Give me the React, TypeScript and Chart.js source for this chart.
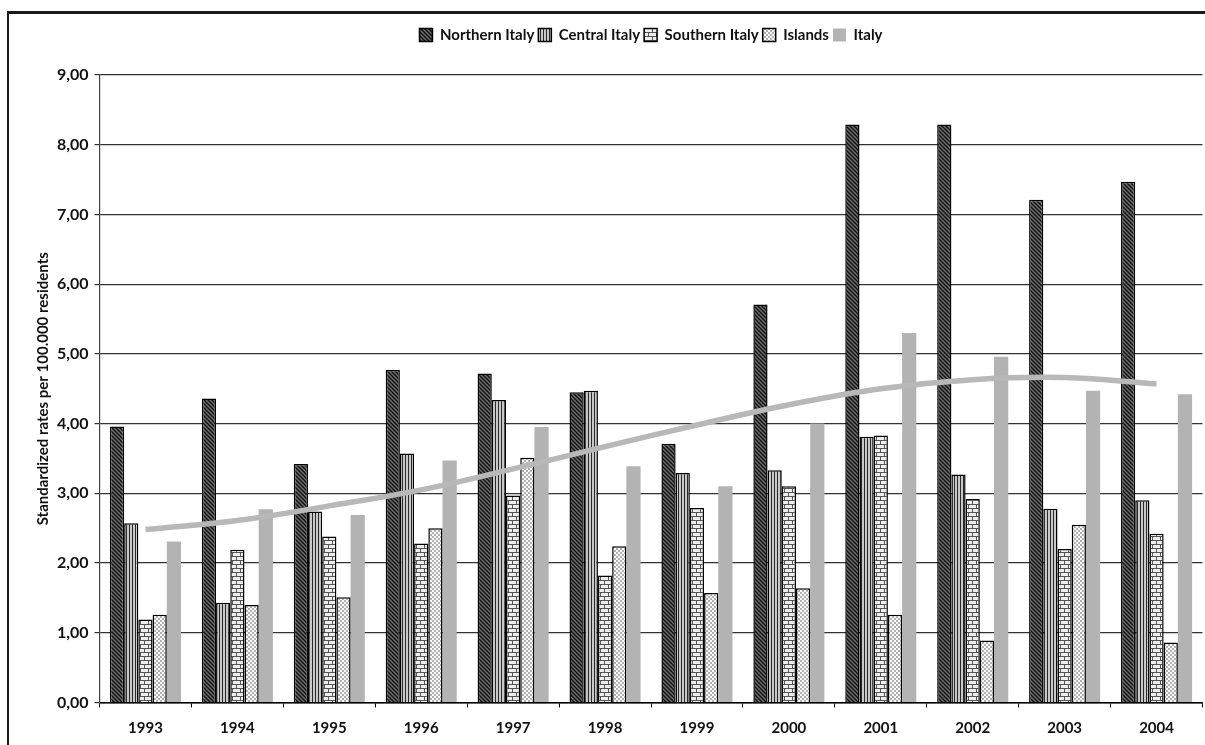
import { useEffect, useRef } from 'react';
import { Chart, registerables } from 'chart.js';

Chart.register(...registerables);

const years = ['1993', '1994', '1995', '1996', '1997', '1998', '1999', '2000', '2001', '2002', '2003', '2004'];
const northernItaly = [3.96, 4.36, 3.42, 4.77, 4.72, 4.45, 3.71, 5.71, 8.29, 8.29, 7.21, 7.47];
const centralItaly = [2.57, 1.43, 2.74, 3.57, 4.34, 4.47, 3.29, 3.33, 3.81, 3.27, 2.78, 2.9];
const southernItaly = [1.19, 2.19, 2.38, 2.28, 2.97, 1.82, 2.79, 3.1, 3.83, 2.92, 2.2, 2.42];
const islands = [1.26, 1.4, 1.51, 2.5, 3.51, 2.24, 1.57, 1.64, 1.26, 0.89, 2.55, 0.86];
const italy = [2.31, 2.77, 2.69, 3.47, 3.95, 3.39, 3.1, 4.0, 5.3, 4.96, 4.47, 4.42];
const italyTrend = [2.48, 2.61, 2.82, 3.05, 3.35, 3.67, 3.98, 4.27, 4.5, 4.63, 4.66, 4.57];
const seriesNames = ['Northern Italy', 'Central Italy', 'Southern Italy', 'Islands', 'Italy'];
const yAxisTitle = 'Standardized rates per 100.000 residents';

const FONT = 'Lato, "Liberation Sans", sans-serif';

function makePattern(w: number, h: number, draw: (c: CanvasRenderingContext2D) => void): CanvasPattern {
  const cv = document.createElement('canvas');
  cv.width = w;
  cv.height = h;
  const c = cv.getContext('2d')!;
  draw(c);
  return c.createPattern(cv, 'repeat')!;
}

export default function App() {
  const ref = useRef<HTMLCanvasElement>(null);

  useEffect(() => {
    const canvas = ref.current!;
    const ctx = canvas.getContext('2d')!;

    const diag = makePattern(4, 4, (c) => {
      c.fillStyle = '#6e6e6e';
      c.fillRect(0, 0, 4, 4);
      c.strokeStyle = '#111';
      c.lineWidth = 1.4;
      c.beginPath();
      c.moveTo(-1, -1); c.lineTo(5, 5);
      c.moveTo(-1, 3); c.lineTo(1, 5);
      c.moveTo(3, -1); c.lineTo(5, 1);
      c.stroke();
    });
    const vert = makePattern(3, 2, (c) => {
      c.fillStyle = '#c8c8c8';
      c.fillRect(0, 0, 3, 2);
      c.fillStyle = '#2a2a2a';
      c.fillRect(0, 0, 1, 2);
    });
    const brick = makePattern(8, 8, (c) => {
      c.fillStyle = '#eeeeee';
      c.fillRect(0, 0, 8, 8);
      c.fillStyle = '#555';
      c.fillRect(0, 0, 8, 1);
      c.fillRect(0, 4, 8, 1);
      c.fillRect(0, 0, 1, 4);
      c.fillRect(4, 4, 1, 4);
    });
    const check = makePattern(4, 4, (c) => {
      c.fillStyle = '#fafafa';
      c.fillRect(0, 0, 4, 4);
      c.fillStyle = '#b0b0b0';
      c.fillRect(0, 0, 2, 2);
      c.fillRect(2, 2, 2, 2);
    });

    const legendSpacer = {
      id: 'legendSpacer',
      beforeInit(chart: any) {
        const lg = chart.legend;
        if (!lg) return;
        const orig = lg.fit;
        lg.fit = function () {
          orig.call(this);
          this.height += 22.5;
        };
      },
    };

    const barCommon = { borderColor: '#000', borderWidth: 1.5, categoryPercentage: 0.773, barPercentage: 1.0 };

    const chart = new Chart(ctx, {
      type: 'bar',
      data: {
        labels: years,
        datasets: [
          { label: seriesNames[0], data: northernItaly, backgroundColor: diag, ...barCommon },
          { label: seriesNames[1], data: centralItaly, backgroundColor: vert, ...barCommon },
          { label: seriesNames[2], data: southernItaly, backgroundColor: brick, ...barCommon },
          { label: seriesNames[3], data: islands, backgroundColor: check, ...barCommon },
          { label: seriesNames[4], data: italy, backgroundColor: '#b3b3b3', borderWidth: 0, categoryPercentage: 0.773, barPercentage: 1.0 },
          {
            type: 'line',
            label: 'Trend',
            data: italyTrend,
            borderColor: '#b8b8b8',
            borderWidth: 5.5,
            pointRadius: 0,
            tension: 0.4,
            fill: false,
            order: -1,
          } as any,
        ],
      },
      options: {
        animation: false,
        responsive: false,
        maintainAspectRatio: false,
        layout: { padding: { top: 23.5, right: 2.5, left: 0, bottom: 0 } },
        plugins: {
          legend: {
            display: true,
            position: 'top',
            fullSize: false,
            labels: {
              boxWidth: 13,
              boxHeight: 13,
              padding: 4,
              color: '#111',
              font: { family: FONT, size: 15, weight: 'bold' },
              filter: (item: any) => item.text !== 'Trend',
            },
          },
          tooltip: { enabled: false },
        },
        scales: {
          x: {
            grid: { display: true, drawOnChartArea: false, drawTicks: true, tickLength: 5, color: '#000', lineWidth: 1 },
            border: { display: true, color: '#000', width: 1.5 },
            ticks: { color: '#111', font: { family: FONT, size: 15, weight: 'bold' }, padding: 12, maxRotation: 0 },
            afterFit: (scale: any) => { scale.height = 42.5; },
          },
          y: {
            min: 0,
            max: 9,
            grid: { color: '#333', lineWidth: 1.2, drawTicks: true, tickLength: 5 },
            border: { display: true, color: '#444', width: 1.2 },
            ticks: {
              stepSize: 1,
              color: '#111',
              padding: 6,
              font: { family: FONT, size: 16, weight: 'bold' },
              callback: (v: any) => Number(v).toFixed(2).replace('.', ','),
            },
            title: {
              display: true,
              text: yAxisTitle,
              color: '#111',
              font: { family: FONT, size: 15, weight: 'bold' },
              padding: { top: 34, bottom: 0 },
            },
            afterFit: (scale: any) => { scale.width = 99.5; },
          },
        },
      },
      plugins: [legendSpacer],
    });
    return () => chart.destroy();
  }, []);

  return (
    <div style={{ position: 'absolute', left: 0, top: 0, width: 1205, height: 745, background: '#fff', overflow: 'hidden' }}>
      <div
        style={{
          position: 'absolute',
          left: 7,
          top: 11,
          width: 1300,
          height: 800,
          borderLeft: '2px solid #1a1a1a',
          borderTop: '3px solid #1a1a1a',
        }}
      />
      <canvas ref={ref} width={1205} height={745} style={{ position: 'absolute', left: 0, top: 0, width: 1205, height: 745 }} />
    </div>
  );
}
